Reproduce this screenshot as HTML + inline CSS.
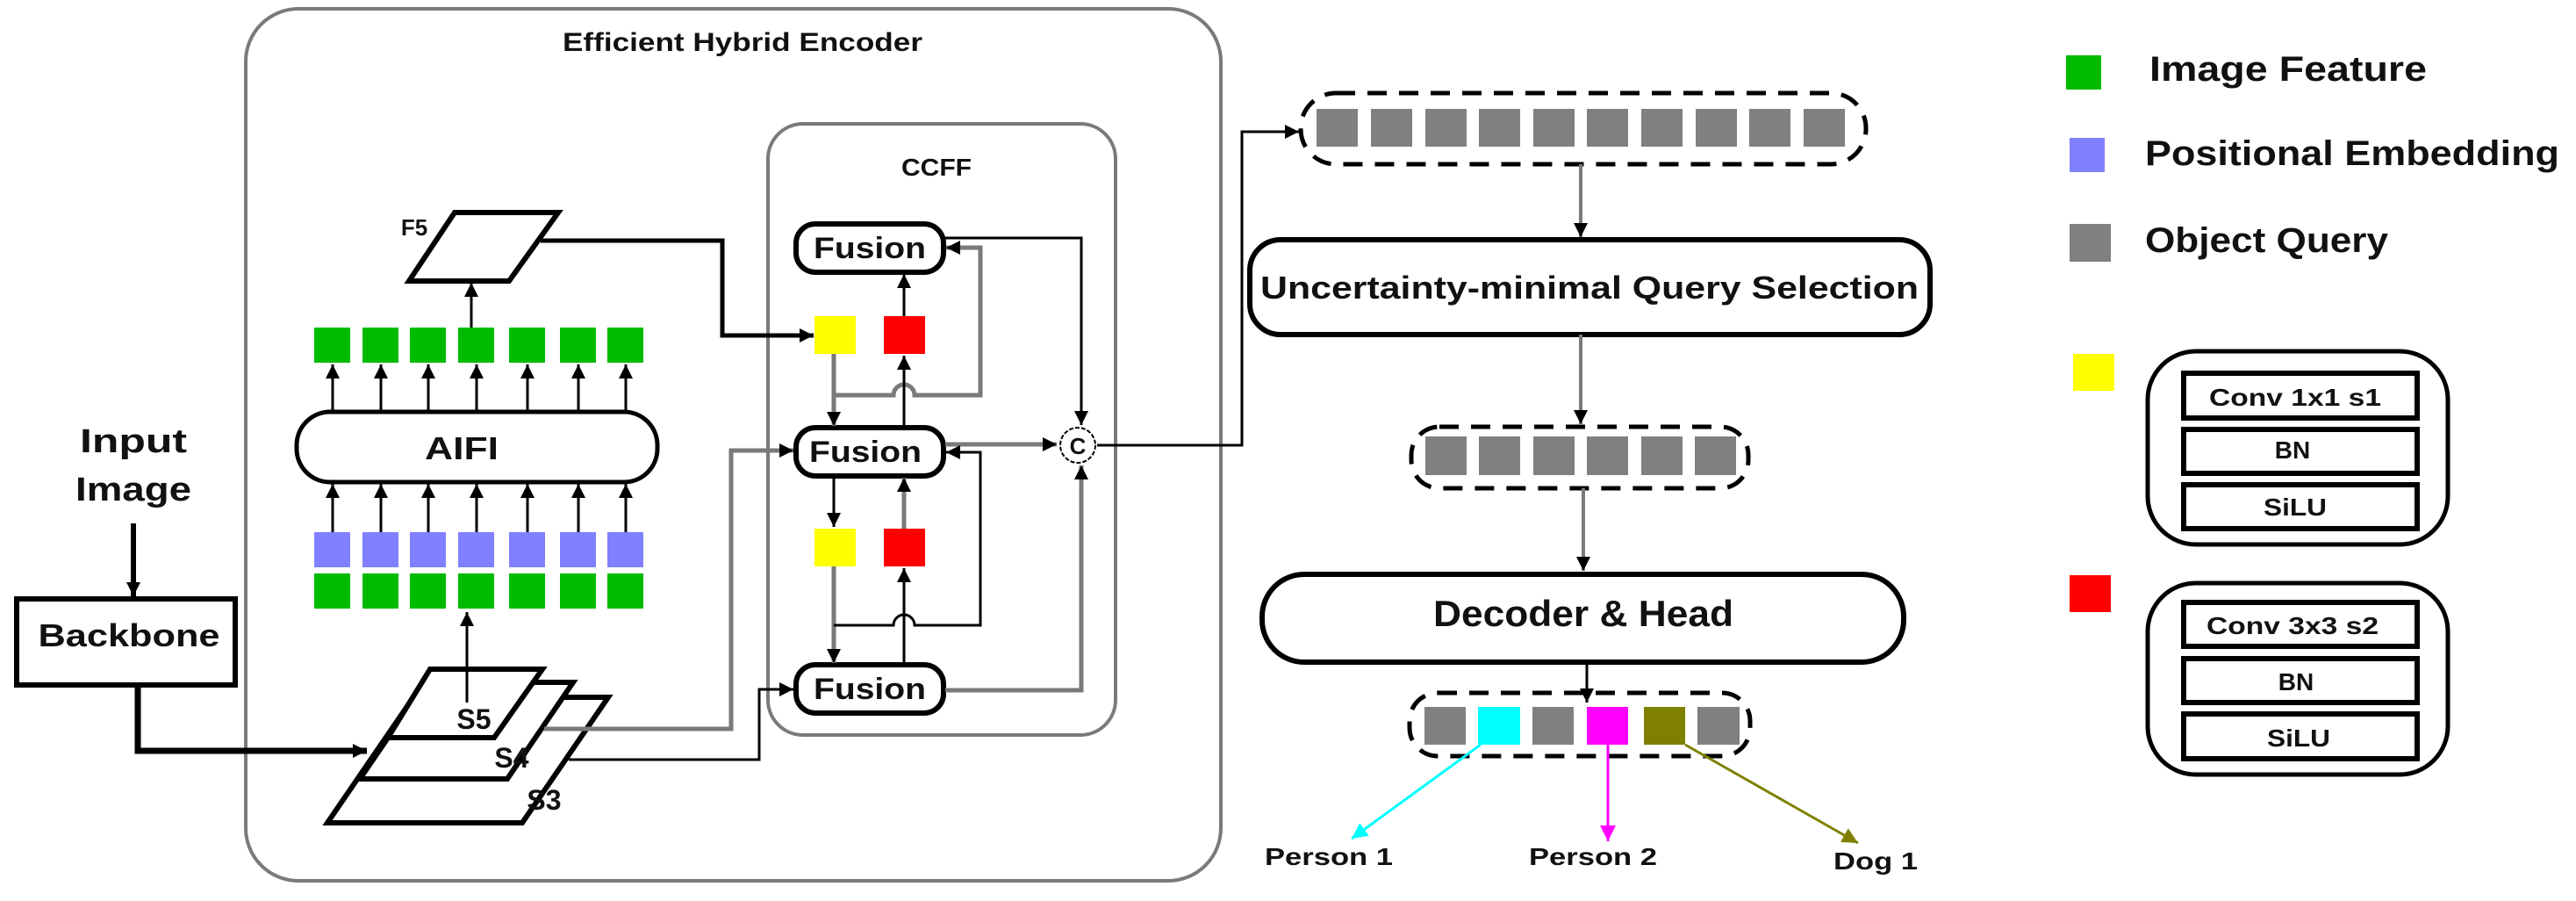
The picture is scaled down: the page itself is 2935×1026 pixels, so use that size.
<!DOCTYPE html>
<html><head><meta charset="utf-8"><style>
html,body{margin:0;padding:0;background:#fff;}
svg{display:block;}
text{font-family:"Liberation Sans","DejaVu Sans",sans-serif;font-weight:bold;fill:#111;}
</style></head><body>
<svg width="2935" height="1026" viewBox="0 0 2935 1026" xmlns="http://www.w3.org/2000/svg">
<defs>
<marker id="a" markerWidth="5" markerHeight="5" refX="4.5" refY="2.5" orient="auto" markerUnits="userSpaceOnUse" viewBox="0 0 5 5"><path d="M0,0 L5,2.5 L0,5 z" fill="#000"/></marker>
<marker id="ab" viewBox="0 0 10 10" refX="10" refY="5" markerWidth="16" markerHeight="16" orient="auto" markerUnits="userSpaceOnUse"><path d="M0,0 L10,5 L0,10 z" fill="#000"/></marker>
<marker id="ac" viewBox="0 0 10 10" refX="10" refY="5" markerWidth="18" markerHeight="18" orient="auto" markerUnits="userSpaceOnUse"><path d="M0,0 L10,5 L0,10 z" fill="#00ffff"/></marker>
<marker id="am" viewBox="0 0 10 10" refX="10" refY="5" markerWidth="18" markerHeight="18" orient="auto" markerUnits="userSpaceOnUse"><path d="M0,0 L10,5 L0,10 z" fill="#ff00ff"/></marker>
<marker id="ao" viewBox="0 0 10 10" refX="10" refY="5" markerWidth="18" markerHeight="18" orient="auto" markerUnits="userSpaceOnUse"><path d="M0,0 L10,5 L0,10 z" fill="#808000"/></marker>
</defs>

<!-- Encoder box -->
<rect x="280" y="10" width="1111" height="993" rx="60" fill="none" stroke="#7a7a7a" stroke-width="4"/>
<text x="846" y="58" text-anchor="middle" font-size="30" textLength="410" lengthAdjust="spacingAndGlyphs">Efficient Hybrid Encoder</text>

<!-- CCFF box -->
<rect x="875" y="141" width="396" height="696" rx="40" fill="none" stroke="#7a7a7a" stroke-width="4"/>
<text x="1067" y="200" text-anchor="middle" font-size="28" textLength="80" lengthAdjust="spacingAndGlyphs">CCFF</text>

<!-- Input image / backbone -->
<text x="152" y="515" text-anchor="middle" font-size="38" textLength="122" lengthAdjust="spacingAndGlyphs">Input</text>
<text x="152" y="570" text-anchor="middle" font-size="38" textLength="132" lengthAdjust="spacingAndGlyphs">Image</text>
<line x1="152" y1="596" x2="152" y2="679" stroke="#000" stroke-width="6" marker-end="url(#ab)"/>
<rect x="19" y="682" width="249" height="98" fill="#fff" stroke="#000" stroke-width="6"/>
<text x="147" y="736" text-anchor="middle" font-size="36" textLength="207" lengthAdjust="spacingAndGlyphs">Backbone</text>
<path d="M157,783 L157,855 L418,855" fill="none" stroke="#000" stroke-width="7" marker-end="url(#ab)"/>

<!-- S stack -->
<polygon points="471,794 693,794 595,937 373,937" fill="#fff" stroke="#000" stroke-width="6"/>
<polygon points="485,777 653,777 578,887 410,887" fill="#fff" stroke="#000" stroke-width="6"/>
<polygon points="490,762 618,762 563,840 442,840" fill="#fff" stroke="#000" stroke-width="6"/>
<text x="540" y="830" text-anchor="middle" font-size="32">S5</text>
<text x="583" y="874" text-anchor="middle" font-size="32">S4</text>
<text x="620" y="922" text-anchor="middle" font-size="32">S3</text>
<line x1="532" y1="800" x2="532" y2="697" stroke="#000" stroke-width="3" marker-end="url(#ab)"/>

<!-- features -->
<g fill="#00bb00">
<rect x="358" y="373" width="41" height="40"/><rect x="413" y="373" width="41" height="40"/><rect x="467" y="373" width="41" height="40"/><rect x="522" y="373" width="41" height="40"/><rect x="580" y="373" width="41" height="40"/><rect x="638" y="373" width="41" height="40"/><rect x="692" y="373" width="41" height="40"/>
<rect x="358" y="653" width="41" height="40"/><rect x="413" y="653" width="41" height="40"/><rect x="467" y="653" width="41" height="40"/><rect x="522" y="653" width="41" height="40"/><rect x="580" y="653" width="41" height="40"/><rect x="638" y="653" width="41" height="40"/><rect x="692" y="653" width="41" height="40"/>
</g>
<g fill="#8080ff">
<rect x="358" y="606" width="41" height="40"/><rect x="413" y="606" width="41" height="40"/><rect x="467" y="606" width="41" height="40"/><rect x="522" y="606" width="41" height="40"/><rect x="580" y="606" width="41" height="40"/><rect x="638" y="606" width="41" height="40"/><rect x="692" y="606" width="41" height="40"/>
</g>
<rect x="338" y="469" width="411" height="80" rx="38" fill="#fff" stroke="#000" stroke-width="5"/>
<text x="526" y="523" text-anchor="middle" font-size="36" textLength="84" lengthAdjust="spacingAndGlyphs">AIFI</text>
<g stroke="#000" stroke-width="3">
<line x1="379" y1="467" x2="379" y2="415" marker-end="url(#ab)"/><line x1="434" y1="467" x2="434" y2="415" marker-end="url(#ab)"/><line x1="488" y1="467" x2="488" y2="415" marker-end="url(#ab)"/><line x1="543" y1="467" x2="543" y2="415" marker-end="url(#ab)"/><line x1="601" y1="467" x2="601" y2="415" marker-end="url(#ab)"/><line x1="659" y1="467" x2="659" y2="415" marker-end="url(#ab)"/><line x1="713" y1="467" x2="713" y2="415" marker-end="url(#ab)"/>
<line x1="379" y1="606" x2="379" y2="551" marker-end="url(#ab)"/><line x1="434" y1="606" x2="434" y2="551" marker-end="url(#ab)"/><line x1="488" y1="606" x2="488" y2="551" marker-end="url(#ab)"/><line x1="543" y1="606" x2="543" y2="551" marker-end="url(#ab)"/><line x1="601" y1="606" x2="601" y2="551" marker-end="url(#ab)"/><line x1="659" y1="606" x2="659" y2="551" marker-end="url(#ab)"/><line x1="713" y1="606" x2="713" y2="551" marker-end="url(#ab)"/>
<line x1="537" y1="373" x2="537" y2="322" marker-end="url(#ab)"/>
</g>
<!-- F5 -->
<polygon points="518,242 636,242 580,320 466,320" fill="#fff" stroke="#000" stroke-width="6"/>
<text x="472" y="268" text-anchor="middle" font-size="26">F5</text>

<!-- F5 to yellow -->
<path d="M616,274 L823,274 L823,382 L927,382" fill="none" stroke="#000" stroke-width="5" marker-end="url(#ab)"/>
<!-- S5 to mid fusion -->
<path d="M620,830 L833,830 L833,513 L904,513" fill="none" stroke="#7a7a7a" stroke-width="5" marker-end="url(#ab)"/>
<!-- S4 to bottom fusion -->
<path d="M648,865 L865,865 L865,785 L904,785" fill="none" stroke="#000" stroke-width="3" marker-end="url(#ab)"/>

<!-- Fusion boxes -->
<rect x="907" y="255" width="168" height="55" rx="22" fill="#fff" stroke="#000" stroke-width="6"/>
<rect x="907" y="487" width="168" height="55" rx="22" fill="#fff" stroke="#000" stroke-width="6"/>
<rect x="907" y="757" width="168" height="55" rx="22" fill="#fff" stroke="#000" stroke-width="6"/>
<text x="991" y="294" text-anchor="middle" font-size="34" textLength="128" lengthAdjust="spacingAndGlyphs">Fusion</text>
<text x="986" y="526" text-anchor="middle" font-size="34" textLength="128" lengthAdjust="spacingAndGlyphs">Fusion</text>
<text x="991" y="796" text-anchor="middle" font-size="34" textLength="128" lengthAdjust="spacingAndGlyphs">Fusion</text>

<rect x="928" y="360" width="47" height="43" fill="#ffff00"/>
<rect x="1007" y="360" width="47" height="43" fill="#ff0000"/>
<rect x="928" y="602" width="47" height="43" fill="#ffff00"/>
<rect x="1007" y="602" width="47" height="43" fill="#ff0000"/>

<!-- CCFF internal -->
<g fill="none">
<line x1="950" y1="403" x2="950" y2="485" stroke="#7a7a7a" stroke-width="5" marker-end="url(#ab)"/>
<path d="M950,450 L1018,450 A12,12 0 0 1 1042,450 L1117,450 L1117,282 L1078,282" stroke="#7a7a7a" stroke-width="5" marker-end="url(#ab)"/>
<line x1="1030" y1="487" x2="1030" y2="405" stroke="#000" stroke-width="3" marker-end="url(#ab)"/>
<line x1="1030" y1="360" x2="1030" y2="312" stroke="#000" stroke-width="3" marker-end="url(#ab)"/>
<path d="M1077,271 L1232,271 L1232,484" stroke="#000" stroke-width="3" marker-end="url(#ab)"/>
<line x1="1077" y1="506" x2="1204" y2="506" stroke="#7a7a7a" stroke-width="5" marker-end="url(#ab)"/>
<line x1="950" y1="542" x2="950" y2="600" stroke="#000" stroke-width="3" marker-end="url(#ab)"/>
<line x1="950" y1="645" x2="950" y2="755" stroke="#7a7a7a" stroke-width="5" marker-end="url(#ab)"/>
<path d="M950,712 L1018,712 A12,12 0 0 1 1042,712 L1117,712 L1117,515 L1078,515" stroke="#000" stroke-width="3" marker-end="url(#ab)"/>
<line x1="1030" y1="757" x2="1030" y2="647" stroke="#000" stroke-width="3" marker-end="url(#ab)"/>
<line x1="1030" y1="602" x2="1030" y2="544" stroke="#7a7a7a" stroke-width="5" marker-end="url(#ab)"/>
<path d="M1077,786 L1232,786 L1232,530" stroke="#7a7a7a" stroke-width="5" marker-end="url(#ab)"/>
<path d="M1250,507 L1415,507 L1415,150 L1480,150" stroke="#000" stroke-width="3" marker-end="url(#ab)"/>
</g>
<circle cx="1228" cy="507" r="20" fill="#fff" stroke="#000" stroke-width="2" stroke-dasharray="5,2"/>
<text x="1228" y="517" text-anchor="middle" font-size="26">C</text>

<!-- Right column -->
<rect x="1482" y="106" width="644" height="81" rx="40" fill="none" stroke="#000" stroke-width="5" stroke-dasharray="22,14"/>
<g fill="#808080">
<rect x="1500" y="124" width="47" height="43"/><rect x="1562" y="124" width="47" height="43"/><rect x="1624" y="124" width="47" height="43"/><rect x="1685" y="124" width="47" height="43"/><rect x="1747" y="124" width="47" height="43"/><rect x="1808" y="124" width="47" height="43"/><rect x="1870" y="124" width="47" height="43"/><rect x="1932" y="124" width="47" height="43"/><rect x="1993" y="124" width="47" height="43"/><rect x="2055" y="124" width="47" height="43"/>
</g>
<line x1="1801" y1="187" x2="1801" y2="270" stroke="#7a7a7a" stroke-width="4" marker-end="url(#ab)"/>
<rect x="1424" y="273" width="775" height="108" rx="35" fill="#fff" stroke="#000" stroke-width="6"/>
<text x="1811" y="340" text-anchor="middle" font-size="36" textLength="750" lengthAdjust="spacingAndGlyphs">Uncertainty-minimal Query Selection</text>
<line x1="1801" y1="381" x2="1801" y2="483" stroke="#7a7a7a" stroke-width="4" marker-end="url(#ab)"/>
<rect x="1608" y="486" width="384" height="70" rx="32" fill="none" stroke="#000" stroke-width="5" stroke-dasharray="22,14"/>
<g fill="#808080">
<rect x="1624" y="497" width="47" height="44"/><rect x="1685" y="497" width="47" height="44"/><rect x="1747" y="497" width="47" height="44"/><rect x="1808" y="497" width="47" height="44"/><rect x="1870" y="497" width="47" height="44"/><rect x="1931" y="497" width="47" height="44"/>
</g>
<line x1="1804" y1="556" x2="1804" y2="650" stroke="#7a7a7a" stroke-width="4" marker-end="url(#ab)"/>
<rect x="1438" y="654" width="731" height="100" rx="48" fill="#fff" stroke="#000" stroke-width="6"/>
<text x="1804" y="713" text-anchor="middle" font-size="42" textLength="342" lengthAdjust="spacingAndGlyphs">Decoder &amp; Head</text>
<line x1="1808" y1="755" x2="1808" y2="800" stroke="#000" stroke-width="3" marker-end="url(#ab)"/>
<rect x="1606" y="789" width="388" height="72" rx="32" fill="none" stroke="#000" stroke-width="5" stroke-dasharray="22,14"/>
<rect x="1623" y="805" width="47" height="43" fill="#808080"/>
<rect x="1684" y="805" width="48" height="43" fill="#00ffff"/>
<rect x="1746" y="805" width="47" height="43" fill="#808080"/>
<rect x="1808" y="805" width="47" height="43" fill="#ff00ff"/>
<rect x="1873" y="805" width="47" height="43" fill="#808000"/>
<rect x="1934" y="805" width="48" height="43" fill="#808080"/>
<line x1="1687" y1="848" x2="1540" y2="955" stroke="#00ffff" stroke-width="3" marker-end="url(#ac)"/>
<line x1="1832" y1="848" x2="1832" y2="958" stroke="#ff00ff" stroke-width="3" marker-end="url(#am)"/>
<line x1="1920" y1="848" x2="2117" y2="960" stroke="#808000" stroke-width="3" marker-end="url(#ao)"/>
<text x="1514" y="985" text-anchor="middle" font-size="28" textLength="146" lengthAdjust="spacingAndGlyphs">Person 1</text>
<text x="1815" y="985" text-anchor="middle" font-size="28" textLength="146" lengthAdjust="spacingAndGlyphs">Person 2</text>
<text x="2137" y="990" text-anchor="middle" font-size="28" textLength="96" lengthAdjust="spacingAndGlyphs">Dog 1</text>

<!-- Legend -->
<rect x="2354" y="63" width="40" height="39" fill="#00bb00"/>
<text x="2449" y="92" font-size="40" textLength="316" lengthAdjust="spacingAndGlyphs">Image Feature</text>
<rect x="2358" y="157" width="40" height="39" fill="#8080ff"/>
<text x="2444" y="188" font-size="40" textLength="472" lengthAdjust="spacingAndGlyphs">Positional Embedding</text>
<rect x="2358" y="255" width="47" height="43" fill="#808080"/>
<text x="2444" y="287" font-size="40" textLength="277" lengthAdjust="spacingAndGlyphs">Object Query</text>

<rect x="2362" y="403" width="47" height="42" fill="#ffff00"/>
<rect x="2447" y="400" width="342" height="220" rx="55" fill="none" stroke="#000" stroke-width="5"/>
<rect x="2488" y="425" width="266" height="51" fill="none" stroke="#000" stroke-width="6"/>
<rect x="2488" y="489" width="266" height="50" fill="none" stroke="#000" stroke-width="6"/>
<rect x="2488" y="552" width="266" height="50" fill="none" stroke="#000" stroke-width="6"/>
<text x="2615" y="462" text-anchor="middle" font-size="28" textLength="196" lengthAdjust="spacingAndGlyphs">Conv 1x1 s1</text>
<text x="2612" y="522" text-anchor="middle" font-size="28">BN</text>
<text x="2615" y="587" text-anchor="middle" font-size="28" textLength="72" lengthAdjust="spacingAndGlyphs">SiLU</text>

<rect x="2358" y="655" width="47" height="42" fill="#ff0000"/>
<rect x="2447" y="664" width="342" height="218" rx="55" fill="none" stroke="#000" stroke-width="5"/>
<rect x="2488" y="686" width="266" height="50" fill="none" stroke="#000" stroke-width="6"/>
<rect x="2488" y="750" width="266" height="50" fill="none" stroke="#000" stroke-width="6"/>
<rect x="2488" y="813" width="266" height="51" fill="none" stroke="#000" stroke-width="6"/>
<text x="2612" y="722" text-anchor="middle" font-size="28" textLength="196" lengthAdjust="spacingAndGlyphs">Conv 3x3 s2</text>
<text x="2616" y="786" text-anchor="middle" font-size="28">BN</text>
<text x="2619" y="850" text-anchor="middle" font-size="28" textLength="72" lengthAdjust="spacingAndGlyphs">SiLU</text>
</svg>
</body></html>
